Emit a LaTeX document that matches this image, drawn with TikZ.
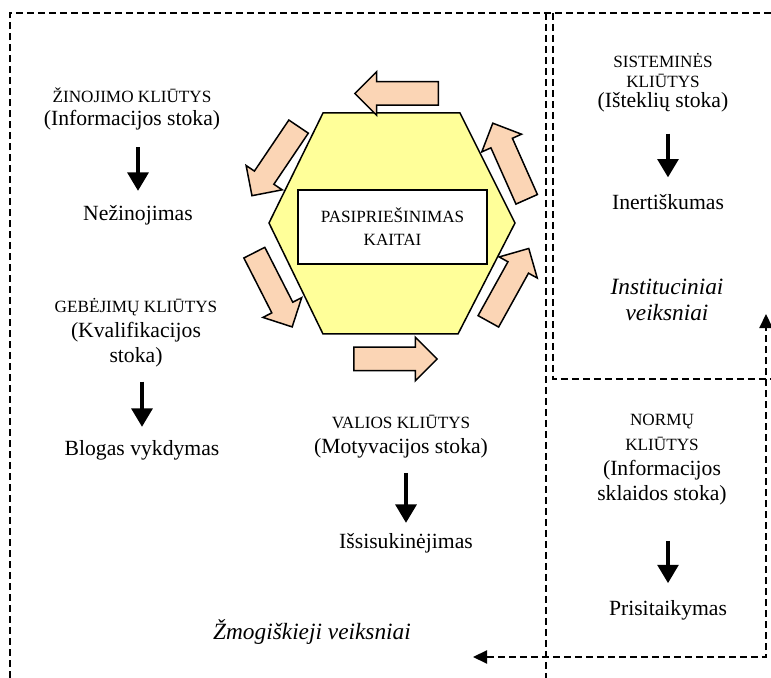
\documentclass[tikz,border=0pt]{standalone}
\usepackage{fontspec}
\setmainfont{Liberation Serif}
\usetikzlibrary{arrows.meta,shapes.arrows}
\definecolor{hexyellow}{RGB}{255,255,153}
\definecolor{peach}{RGB}{251,213,181}
\newcommand\capsz{\fontsize{10.3}{15}\selectfont}
\tikzset{>=Triangle}

\begin{document}
\begin{tikzpicture}[x=0.6pt,y=-0.6pt,
  txt/.style={font=\fontsize{13}{15}\selectfont, align=center, inner sep=0pt},
  factorlbl/.style={font=\fontsize{14}{16}\selectfont\itshape, align=center, inner sep=0pt},
  flow/.style={line width=2.1pt, -{Triangle[width=12.5pt,length=11pt]}},
  dashline/.style={line width=0.8pt, dash pattern=on 4.2pt off 2.4pt},
  blockarr/.style={single arrow, draw, line width=0.9pt, fill=peach, anchor=tail,
    minimum height=50pt, inner sep=6.6pt, single arrow head extend=6pt,
    single arrow tip angle=90}]
\useasboundingbox (0,0) rectangle (771,678);
% frames
\draw[dashline] (10,678) -- (10,13) -- (771,13);
\draw[dashline] (546,13) -- (546,678);
\draw[dashline] (553,13) -- (553,379) -- (771,379);
% hexagon
\draw[line width=0.9pt, fill=hexyellow] (323,113) -- (460,113) -- (515,223)
  -- (458,334) -- (323,334) -- (269,223) -- cycle;
\node[draw, line width=0.9pt, fill=white, minimum width=113.4pt, minimum height=44.4pt,
  align=center, font=\fontsize{10.3}{13.8}\selectfont] (core) at (392.5,227)
  {PASIPRIEŠINIMAS\\KAITAI};
% arrows round the hexagon
\node[blockarr, rotate=180] (a1) at (439,93.5) {};
\node[blockarr, rotate=236] (a2) at (299,126) {};
\node[blockarr, rotate=297] (a3) at (254,252) {};
\node[blockarr, rotate=0] (a4) at (353,359) {};
\node[blockarr, rotate=61] (a5) at (488,322) {};
\node[blockarr, rotate=114] (a6) at (527,200) {};
% human barriers
\node[txt] (zin) at (132,109) {{\capsz ŽINOJIMO KLIŪTYS}\\[-1.2pt](Informacijos stoka)};
\node[txt] (nez) at (138,215) {Nežinojimas};
\draw[flow, shorten <=10pt, shorten >=8.4pt] (nez.north |- zin.south) -- (nez.north);
\node[txt] (geb) at (136,333) {{\capsz GEBĖJIMŲ KLIŪTYS}\\(Kvalifikacijos\\stoka)};
\node[txt] (blog) at (142,450) {Blogas vykdymas};
\draw[flow, shorten <=8.4pt, shorten >=7.8pt] (blog.north |- geb.south) -- (blog.north);
\node[txt] (val) at (401,437) {{\capsz VALIOS KLIŪTYS}\\(Motyvacijos stoka)};
\node[txt] (iss) at (406,543) {Išsisukinėjimas};
\draw[flow, shorten <=8.4pt, shorten >=6pt] (iss.north |- val.south) -- (iss.north);
\node[factorlbl] (zmog) at (312,632) {Žmogiškieji veiksniai};
% institutional barriers
\node[txt] (sis) at (663,83) {{\capsz SISTEMINĖS}\\[-3pt]{\capsz KLIŪTYS}\\[-3pt](Išteklių stoka)};
\node[txt] (inert) at (668,202) {Inertiškumas};
\draw[flow, shorten <=12.6pt, shorten >=10pt] (inert.north |- sis.south) -- (inert.north);
\node[factorlbl] (inst) at (667,300) {Instituciniai\\veiksniai};
\node[txt] (norm) at (662,460) {{\capsz NORMŲ}\\{\capsz KLIŪTYS}\\(Informacijos\\sklaidos stoka)};
\node[txt] (pris) at (668,610) {Prisitaikymas};
\draw[flow, shorten <=21pt, shorten >=10pt] (pris.north |- norm.south) -- (pris.north);
% norm frame with arrows
\coordinate (ncorner) at (766,657);
\coordinate (nleft) at (473,657);
\coordinate (nup) at (766,314);
\draw[dashline, {Triangle[width=8pt,length=8.5pt]}-{Triangle[width=8pt,length=8.5pt]}]
  (nleft) -- (ncorner) -- (nup);
\end{tikzpicture}
\end{document}
